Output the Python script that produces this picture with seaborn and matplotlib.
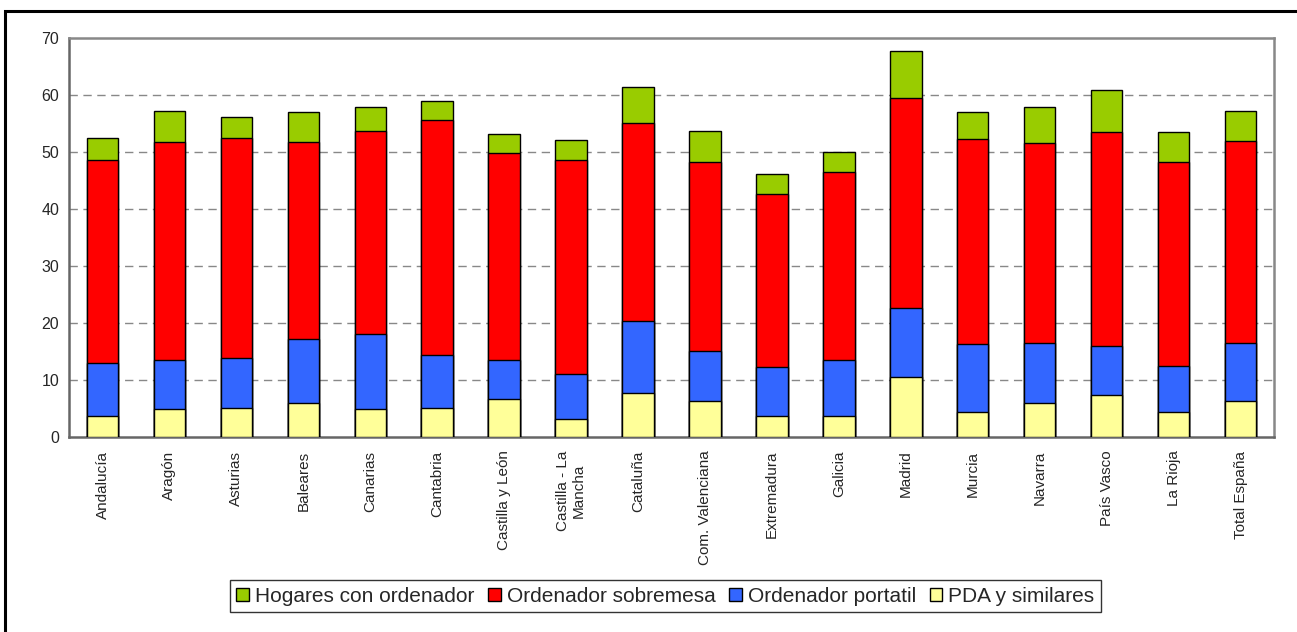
import matplotlib
matplotlib.use("Agg")
import matplotlib.pyplot as plt
import seaborn as sns
import pandas as pd
from matplotlib.patches import Rectangle, Patch
from matplotlib.ticker import FixedLocator

regiones = ["Andalucía", "Aragón", "Asturias", "Baleares", "Canarias", "Cantabria",
            "Castilla y León", "Castilla - La\nMancha", "Cataluña", "Com. Valenciana",
            "Extremadura", "Galicia", "Madrid", "Murcia", "Navarra", "País Vasco",
            "La Rioja", "Total España"]
hogares_ordenador = [52.4, 57.3, 56.1, 57.0, 57.9, 58.9, 53.1, 52.1, 61.5, 53.7,
                     46.1, 50.1, 67.7, 57.0, 57.9, 61.0, 53.5, 57.2]
ordenador_sobremesa = [48.6, 51.7, 52.4, 51.8, 53.8, 55.6, 49.8, 48.6, 55.2, 48.2,
                       42.7, 46.5, 59.5, 52.3, 51.6, 53.5, 48.2, 52.0]
ordenador_portatil = [12.9, 13.5, 13.8, 17.1, 18.0, 14.3, 13.5, 11.1, 20.3, 15.1,
                      12.3, 13.4, 22.6, 16.2, 16.4, 16.0, 12.4, 16.4]
pda_similares = [3.7, 4.8, 5.1, 5.9, 4.8, 5.1, 6.6, 3.1, 7.6, 6.2,
                 3.7, 3.7, 10.5, 4.4, 6.0, 7.3, 4.4, 6.2]

series = [
    ("Hogares con ordenador", hogares_ordenador, "#99CC00"),
    ("Ordenador sobremesa", ordenador_sobremesa, "#FF0000"),
    ("Ordenador portatil", ordenador_portatil, "#3366FF"),
    ("PDA y similares", pda_similares, "#FFFF99"),
]

sns.set_style("white")
plt.rcParams['font.family'] = ['Liberation Sans', 'DejaVu Sans']

fig = plt.figure(figsize=(12.97, 6.32), dpi=100)
ax = fig.add_axes([69/1297, 1-436.7/632, (1274-69)/1297, (436.7-38.3)/632])

for name, vals, col in series:
    df = pd.DataFrame({"region": regiones, "valor": vals})
    sns.barplot(data=df, x="region", y="valor", color=col, saturation=1,
                edgecolor="black", linewidth=1.0, width=0.47, ax=ax, zorder=3)

n = len(regiones)
ax.set_xlim(-0.5, n - 0.5)
ax.set_ylim(0, 70)
ax.set_yticks(range(0, 71, 10))
ax.set_xlabel("")
ax.set_ylabel("")

for y in range(10, 70, 10):
    ax.axhline(y, color="#888888", linestyle=(0, (6, 4)), linewidth=1.0, zorder=1)

for side in ["left", "bottom", "top", "right"]:
    ax.spines[side].set_color("#888888")
    ax.spines[side].set_linewidth(1.8)
ax.spines["left"].set_color("#666666")
ax.spines["bottom"].set_color("#666666")

ax.tick_params(axis="x", which="major", length=0, pad=10)
ax.xaxis.set_minor_locator(FixedLocator([i - 0.5 for i in range(n + 1)]))
ax.tick_params(axis="x", which="minor", length=5, width=1.2, color="#666666", direction="out")
ax.tick_params(axis="y", which="major", length=4, width=1.2, color="#666666",
               direction="out", labelsize=11.5, pad=3)
for lbl in ax.get_xticklabels():
    lbl.set_rotation(90)
    lbl.set_fontsize(11)
    lbl.set_ha("center")
    lbl.set_va("top")
    lbl.set_multialignment("center")

handles = [Patch(facecolor=c, edgecolor="black", linewidth=1.0, label=nm) for nm, _, c in series]
leg = fig.legend(handles=handles, loc="center", bbox_to_anchor=(665.4/1297, 1-596/632),
                 ncol=4, frameon=True, fancybox=False, edgecolor="black",
                 prop={"family": ["Liberation Sans"], "size": 15},
                 handlelength=0.6, handleheight=0.6, handletextpad=0.3, columnspacing=0.65,
                 borderpad=0.3, borderaxespad=0)
leg.get_frame().set_linewidth(1.0)

# outer black frame (cut off at right and bottom)
fig.patches.append(Rectangle((5/1297, -0.05), 1.1, 1 - 11/632 + 0.05,
                             transform=fig.transFigure, fill=False,
                             edgecolor="black", linewidth=2.2, clip_on=False))

fig.savefig("out.png", dpi=100)
